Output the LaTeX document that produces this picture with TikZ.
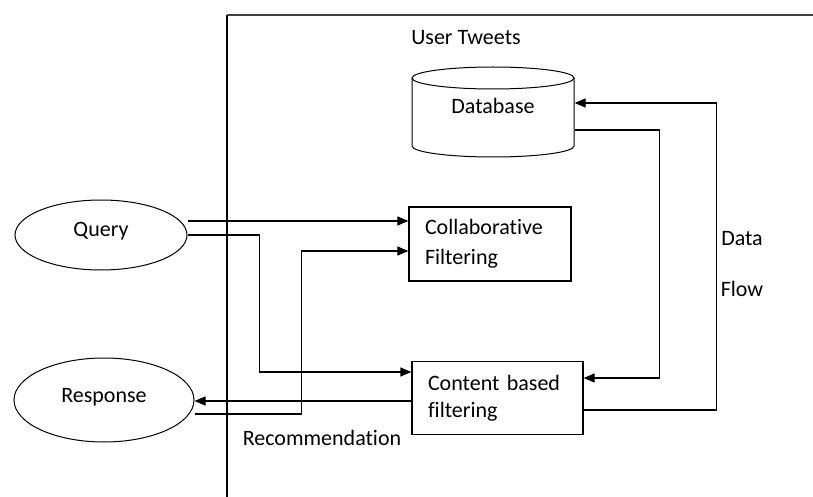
\documentclass[tikz,border=0pt]{standalone}
\usepackage{fontspec}
\setmainfont{Carlito}[Ligatures=NoCommon]
\usetikzlibrary{arrows.meta,shapes.geometric,calc}
\begin{document}
\begin{tikzpicture}[x=1pt,y=-1pt, line width=1.3pt,
  arr/.style={-{Triangle[length=11pt,width=9pt]}},
  lbl/.style={font=\fontsize{22}{26}\selectfont, inner sep=0pt},
  oval/.style={ellipse, draw, line width=1pt, inner sep=0pt, font=\fontsize{22}{26}\selectfont},
  procbox/.style={draw, line width=1.3pt, inner ysep=0pt, inner xsep=16pt, align=left}]
\useasboundingbox (0,0) rectangle (813,497);
% frame
\draw[line width=1.3pt] (227,497) -- (227,15);
\draw[line width=1.6pt, black!75] (227,15) -- (813,15);
% ellipses
\node[oval, minimum width=172pt, minimum height=70pt] (query) at (101,235) {\raisebox{-1pt}[0pt][0pt]{Query}};
\node[oval, minimum width=180pt, minimum height=84pt] (resp) at (104,400) {\raisebox{-2pt}[0pt][0pt]{Response}};
% boxes
\node[procbox, minimum width=162pt, minimum height=74pt, text width=130pt,
      font=\fontsize{22}{30}\selectfont] (collab) at (490,244) {Collaborative\\Filtering};
\node[procbox, minimum width=171pt, minimum height=73pt, text width=139pt,
      font=\fontsize{22}{27}\selectfont] (content) at (497.5,398) {Content based\\filtering};
% database cylinder
\draw[line width=1pt] (493,78) ellipse[x radius=81pt, y radius=11pt];
\draw[line width=1pt] (412,78) -- (412,146) arc[start angle=180, end angle=360, x radius=81pt, y radius=11pt] -- (574,78);
\node[minimum width=162pt, minimum height=90pt, inner sep=0pt] (db) at (493,112) {};
\node[lbl] (dbt) at (493,106) {Database};
% labels
\node[lbl] (tweets) at (466,38) {User Tweets};
\node[lbl] (data) at (742,239) {Data};
\node[lbl] (flow) at (742,289) {Flow};
\node[lbl] (rec) at (322,438) {Recommendation};
% connectors
\draw[arr] ([yshift=14pt]query.east) -- ([yshift=14pt]query.east -| collab.west);
\draw[arr] (query.east) -- ++(72,0) |- ([yshift=26pt]content.west);
\draw[arr] ([yshift=-14pt]resp.east) -- ++(107,0) |- ([yshift=-7pt]collab.west);
\draw[arr] ([yshift=-3pt]content.west) -- ([yshift=-3pt]content.west -| resp.east);
\draw[arr] ([yshift=-18pt]db.east) -- ++(85,0) |- ([yshift=20pt]content.east);
\draw[arr] ([yshift=-12pt]content.east) -- ++(133,0) |- ([yshift=9pt]db.east);
\end{tikzpicture}
\end{document}
